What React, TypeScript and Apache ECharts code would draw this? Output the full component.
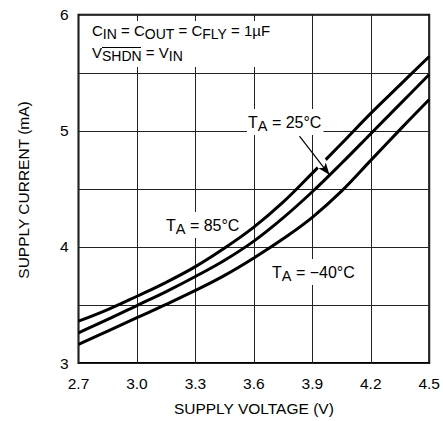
import React, { useEffect, useRef } from "react";
import * as echarts from "echarts";

const voltage = [2.7, 2.85, 3.0, 3.15, 3.3, 3.45, 3.6, 3.75, 3.9, 4.05, 4.2, 4.35, 4.5];
const current85 = [3.36, 3.46, 3.575, 3.695, 3.83, 3.99, 4.17, 4.385, 4.635, 4.89, 5.15, 5.395, 5.64];
const current25 = [3.26, 3.375, 3.495, 3.615, 3.745, 3.885, 4.05, 4.25, 4.475, 4.72, 4.975, 5.23, 5.485];
const currentM40 = [3.16, 3.275, 3.39, 3.505, 3.625, 3.755, 3.905, 4.07, 4.255, 4.48, 4.745, 5.01, 5.27];
const xTicks = [2.7, 3.0, 3.3, 3.6, 3.9, 4.2, 4.5];
const yTicks = [3, 4, 5, 6];
// annotation arrow (25°C label pointing to its curve)
const arrowStart = [3.834, 4.954];
const arrowEnd = [3.988, 4.621];
const gapStart = [3.926, 4.767];
const gapEnd = [3.957, 4.698];

const FONT = '"Liberation Sans", Arial, Helvetica, sans-serif';

const richTop = {
  n: { fontSize: 15, fontFamily: FONT, color: "#000" },
  s: { fontSize: 14, fontFamily: FONT, color: "#000", padding: [7, 0, 0, 0] },
};
const richLbl = {
  n: { fontSize: 16, fontFamily: FONT, color: "#000" },
  s: { fontSize: 14.5, fontFamily: FONT, color: "#000", padding: [7, 0, 0, 0] },
};

export default function App() {
  const ref = useRef<HTMLDivElement>(null);
  useEffect(() => {
    const chart = echarts.init(ref.current!, undefined, { renderer: "svg" });
    const mk = (ys: number[]) => voltage.map((v, i) => [v, ys[i]]);
    const curve = (name: string, ys: number[]) => ({
      name,
      type: "line",
      data: mk(ys),
      smooth: 0.4,
      symbol: "none",
      z: 3,
      lineStyle: { color: "#000", width: 3 },
    });
    chart.setOption({
      animation: false,
      backgroundColor: "#fff",
      grid: {
        left: 78.5,
        right: 13,
        top: 14.7,
        bottom: 55.3,
        show: true,
        borderColor: "#000",
        borderWidth: 2,
        backgroundColor: "transparent",
      },
      xAxis: {
        type: "value",
        min: 2.7,
        max: 4.5,
        interval: 0.3,
        name: "SUPPLY VOLTAGE (V)",
        nameLocation: "middle",
        nameGap: 37,
        nameTextStyle: { fontFamily: FONT, fontSize: 15.5, color: "#000", verticalAlign: "top" },
        axisLine: { show: false },
        axisTick: { show: false },
        axisLabel: {
          fontFamily: FONT,
          fontSize: 15.5,
          color: "#000",
          margin: 12,
          formatter: (v: number) => {
            const t = xTicks.find((k) => Math.abs(k - v) < 1e-6);
            return t === undefined ? "" : t.toFixed(1);
          },
        },
        splitLine: { show: true, lineStyle: { color: "#222", width: 1 } },
      },
      yAxis: {
        type: "value",
        min: 3,
        max: 6,
        interval: 0.5,
        axisLine: { show: false },
        axisTick: { show: false },
        axisLabel: {
          fontFamily: FONT,
          fontSize: 15.5,
          color: "#000",
          margin: 10,
          formatter: (v: number) => {
            const t = yTicks.find((k) => Math.abs(k - v) < 1e-6);
            return t === undefined ? "" : String(t);
          },
        },
        splitLine: { show: true, lineStyle: { color: "#222", width: 1 } },
      },
      series: [
        curve("85", current85),
        curve("25", current25),
        curve("-40", currentM40),
        {
          type: "line",
          data: [],
          z: 4,
          markLine: {
            silent: true,
            symbol: ["none", "none"],
            label: { show: false },
            lineStyle: { color: "#fff", width: 11, type: "solid" },
            data: [[{ coord: gapStart }, { coord: gapEnd }]],
          },
        },
        {
          type: "line",
          data: [],
          z: 5,
          markLine: {
            silent: true,
            symbol: ["none", "arrow"],
            symbolSize: [7, 12],
            label: { show: false },
            lineStyle: { color: "#000", width: 1.2, type: "solid" },
            data: [[{ coord: arrowStart }, { coord: arrowEnd }]],
          },
        },
      ],
      graphic: [
        {
          type: "rect",
          z: 1,
          shape: { x: 80, y: 21, width: 200, height: 46 },
          style: { fill: "#fff" },
        },
        {
          type: "text",
          z: 2,
          x: 92,
          y: 20,
          style: {
            text: "{n|C}{s|IN}{n| = C}{s|OUT}{n| = C}{s|FLY}{n| = 1µF}",
            rich: richTop,
            fill: "#000",
          },
        },
        {
          type: "text",
          z: 2,
          x: 92,
          y: 42,
          style: {
            text: "{n|V}{s|SHDN}{n| = V}{s|IN}",
            rich: richTop,
            fill: "#000",
          },
        },
        {
          type: "line",
          z: 2,
          shape: { x1: 102, y1: 47.5, x2: 141, y2: 47.5 },
          style: { stroke: "#000", lineWidth: 1.2 },
        },
        {
          type: "text",
          z: 2,
          x: 247,
          y: 109,
          style: {
            text: "{n|T}{s|A}{n| = 25°C}",
            rich: richLbl,
            fill: "#000",
            backgroundColor: "#fff",
            padding: [2, 2, 2, 1],
          },
        },
        {
          type: "text",
          z: 2,
          x: 165,
          y: 212,
          style: {
            text: "{n|T}{s|A}{n| = 85°C}",
            rich: richLbl,
            fill: "#000",
            backgroundColor: "#fff",
            padding: [2, 1, 2, 1],
          },
        },
        {
          type: "text",
          z: 2,
          x: 271,
          y: 259,
          style: {
            text: "{n|T}{s|A}{n| = \u221240°C}",
            rich: richLbl,
            fill: "#000",
            backgroundColor: "#fff",
            padding: [2, 2, 2, 1],
          },
        },
        {
          type: "text",
          z: 2,
          x: 23,
          y: 190,
          rotation: Math.PI / 2,
          style: {
            text: "SUPPLY CURRENT (mA)",
            fontFamily: FONT,
            fontSize: 15.5,
            fill: "#000",
            align: "center",
            verticalAlign: "middle",
          },
        },
      ],
    });
    return () => chart.dispose();
  }, []);
  return (
    <div
      ref={ref}
      style={{ position: "fixed", left: 0, top: 0, width: 443, height: 421 }}
    />
  );
}
